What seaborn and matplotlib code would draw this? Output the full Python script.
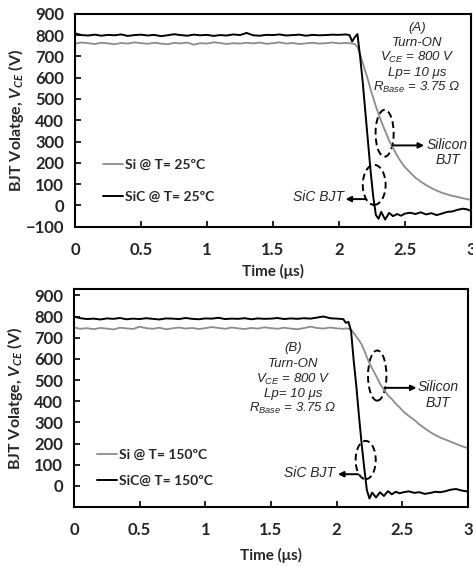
import matplotlib
matplotlib.use("Agg")
import matplotlib.pyplot as plt
from matplotlib.patches import Ellipse
import seaborn as sns

# ---- data ----
# (A) T = 25 C
time_a = [0.00, 0.05, 0.10, 0.15, 0.20, 0.25, 0.30, 0.35, 0.40, 0.45,
          0.50, 0.55, 0.60, 0.65, 0.70, 0.75, 0.80, 0.85, 0.90, 0.95,
          1.00, 1.05, 1.10, 1.15, 1.20, 1.25, 1.30, 1.35, 1.40, 1.45,
          1.50, 1.55, 1.60, 1.65, 1.70, 1.75, 1.80, 1.85, 1.90, 1.95,
          2.00, 2.05, 2.08, 2.10, 2.12, 2.14, 2.16, 2.18, 2.20, 2.22,
          2.24, 2.26, 2.28, 2.30, 2.32, 2.35, 2.38, 2.41, 2.44, 2.47,
          2.50, 2.54, 2.58, 2.62, 2.66, 2.70, 2.74, 2.78, 2.82, 2.86,
          2.90, 2.94, 2.97, 3.00]
si_a = [760, 765, 762, 758, 764, 761, 757, 763, 760, 766,
        762, 759, 764, 760, 757, 763, 761, 765, 755, 762,
        760, 766, 763, 758, 762, 760, 764, 761, 765, 759,
        762, 766, 760, 763, 758, 761, 764, 760, 762, 765,
        761, 763, 762, 760, 758, 745, 710, 670, 630, 590,
        545, 505, 465, 430, 395, 350, 305, 270, 235, 205,
        180, 155, 130, 112, 96, 82, 70, 60, 52, 45,
        40, 34, 30, 26]
sic_a = [808, 800, 798, 802, 797, 801, 799, 803, 796, 800,
         802, 798, 801, 795, 799, 804, 800, 797, 802, 799,
         801, 796, 800, 798, 803, 800, 810, 799, 797, 801,
         800, 803, 798, 800, 802, 797, 801, 799, 800, 802,
         801, 803, 800, 770, 790, 805, 700, 580, 440, 300,
         160, 40, -45, -62, -30, -66, -35, -50, -40, -48,
         -38, -34, -40, -32, -42, -36, -45, -38, -30, -28,
         -20, -15, -18, -25]

# (B) T = 150 C
time_b = [0.00, 0.05, 0.10, 0.15, 0.20, 0.25, 0.30, 0.35, 0.40, 0.45,
          0.50, 0.55, 0.60, 0.65, 0.70, 0.75, 0.80, 0.85, 0.90, 0.95,
          1.00, 1.05, 1.10, 1.15, 1.20, 1.25, 1.30, 1.35, 1.40, 1.45,
          1.50, 1.55, 1.60, 1.65, 1.70, 1.75, 1.80, 1.85, 1.90, 1.95,
          2.00, 2.05, 2.07, 2.09, 2.11, 2.13, 2.15, 2.17, 2.19, 2.21,
          2.23, 2.25, 2.27, 2.30, 2.33, 2.36, 2.39, 2.42, 2.45, 2.48,
          2.51, 2.55, 2.59, 2.63, 2.67, 2.71, 2.75, 2.79, 2.83, 2.87,
          2.91, 2.95, 3.00]
si_b = [748, 742, 745, 740, 746, 743, 739, 747, 744, 741,
        752, 745, 742, 747, 740, 744, 748, 743, 746, 741,
        745, 750, 746, 742, 748, 744, 741, 746, 743, 749,
        745, 742, 747, 743, 740, 745, 752, 746, 743, 748,
        744, 742, 744, 742, 738, 722, 705, 688, 668, 640,
        608, 580, 555, 520, 482, 455, 428, 410, 388, 370,
        350, 330, 312, 290, 272, 255, 240, 228, 218, 208,
        198, 188, 178]
sic_b = [800, 792, 788, 790, 786, 791, 789, 793, 787, 790,
         788, 792, 789, 786, 791, 790, 788, 793, 789, 787,
         791, 790, 794, 788, 790, 789, 792, 787, 791, 789,
         790, 793, 788, 791, 789, 792, 790, 795, 800, 792,
         790, 788, 770, 775, 730, 590, 470, 330, 200, 85,
         -20, -60, -32, -55, -30, -48, -25, -40, -28, -35,
         -30, -26, -33, -30, -38, -34, -28, -30, -25, -18,
         -15, -22, -27]

labels_a = ["Si @ T= 25ºC", "SiC @ T= 25ºC"]
labels_b = ["Si @ T= 150ºC", "SiC@ T= 150ºC"]
xticks = [0, 0.5, 1, 1.5, 2, 2.5, 3]
xticklabels = ["0", "0.5", "1", "1.5", "2", "2.5", "3"]
yticks_a = [-100, 0, 100, 200, 300, 400, 500, 600, 700, 800, 900]
yticks_b = [0, 100, 200, 300, 400, 500, 600, 700, 800, 900]

info_a = ["(A)", "Turn-ON", r"$V_{CE}$ = 800 V", "Lp= 10 μs", r"$R_{Base}$ = 3.75 Ω"]
info_b = ["(B)", "Turn-ON", r"$V_{CE}$ = 800 V", "Lp= 10 μs", r"$R_{Base}$ = 3.75 Ω"]

GREY = "#8c8c8c"
BLACK = "#000000"

sns.set_style("ticks")
plt.rcParams["font.family"] = ["Lato", "DejaVu Sans"]
plt.rcParams["font.weight"] = "bold"
plt.rcParams["mathtext.fontset"] = "custom"
plt.rcParams["mathtext.rm"] = "Liberation Sans:normal"
plt.rcParams["mathtext.it"] = "Liberation Sans:italic:normal"
plt.rcParams["mathtext.bf"] = "Lato:italic:bold"

fig = plt.figure(figsize=(4.73, 5.67), dpi=100)
ax_a = fig.add_axes([0.1586, 0.600, 0.837, 0.3757])
ax_b = fig.add_axes([0.1564, 0.1058, 0.833, 0.3845])


def draw_panel(ax, t, si, sic, labels, yticks, ylim, leg_xy, leg_space, xlabelpad):
    sns.lineplot(x=t, y=si, color=GREY, linewidth=1.3, label=labels[0], ax=ax)
    sns.lineplot(x=t, y=sic, color=BLACK, linewidth=1.4, label=labels[1], ax=ax)
    ax.set_xlim(0, 3)
    ax.set_ylim(*ylim)
    ax.set_xticks(xticks)
    ax.set_xticklabels(xticklabels)
    ax.set_yticks(yticks)
    ax.tick_params(axis="both", direction="in", length=4, width=1.2,
                   labelsize=12, color="black")
    ax.tick_params(axis="x", pad=11)
    ax.tick_params(axis="y", pad=8)
    for s in ax.spines.values():
        s.set_linewidth(1.5)
        s.set_color("black")
    ax.set_xlabel("Time (μs)", fontsize=11, fontweight="bold", labelpad=xlabelpad)
    ax.set_ylabel(r"BJT Volatge, $\mathbf{V_{CE}}$ (V)", fontsize=11.5,
                  fontweight="bold")
    ax.yaxis.set_label_coords(-0.125, 0.5)
    ax.legend(loc="center left", bbox_to_anchor=leg_xy, frameon=False,
              borderpad=0, borderaxespad=0, handlelength=1.45,
              handletextpad=0.15, labelspacing=leg_space,
              prop={"weight": "bold", "size": 10})


def draw_notes(ax, info, cx, ys, ell_si, ell_sic, arr_si, arr_sic, txt_si, txt_sic):
    for line, y in zip(info, ys):
        ax.text(cx, y, line, transform=ax.transAxes, ha="center", va="center",
                fontsize=9.5, fontstyle="italic", fontweight="normal",
                family="Liberation Sans")
    for (x, y, w, h) in [ell_si, ell_sic]:
        ax.add_patch(Ellipse((x, y), w, h, fill=False, edgecolor="black",
                             lw=1.4, linestyle=(0, (3.5, 2))))
    for (x0, x1, y) in [arr_si, arr_sic]:
        ax.annotate("", xy=(x1, y), xytext=(x0, y),
                    arrowprops=dict(arrowstyle="-|>", color="black", lw=1.4,
                                    mutation_scale=8, shrinkA=0, shrinkB=0))
    ax.text(txt_si[0], txt_si[1], "Silicon\nBJT", ha="center", va="center",
            fontsize=10, fontstyle="italic", fontweight="normal",
            family="Liberation Sans", linespacing=1.1)
    ax.text(txt_sic[0], txt_sic[1], "SiC BJT", ha="right", va="center",
            fontsize=10, fontstyle="italic", fontweight="normal",
            family="Liberation Sans")


draw_panel(ax_a, time_a, si_a, sic_a, labels_a, yticks_a, (-100, 900),
           (0.07, 0.216), 1.45, 4)
draw_notes(ax_a, info_a, 0.864, [0.934, 0.864, 0.793, 0.723, 0.653],
           (2.346, 339, 0.137, 220), (2.267, 97, 0.173, 188),
           (2.404, 2.645, 282), (2.20, 2.05, 30),
           (2.823, 248), (2.036, 38))

draw_panel(ax_b, time_b, si_b, sic_b, labels_b, yticks_b, (-100, 930),
           (0.058, 0.179), 1.05, 7)
draw_notes(ax_b, info_b, 0.556, [0.729, 0.656, 0.587, 0.518, 0.450],
           (2.309, 521, 0.14, 237), (2.221, 122, 0.153, 181),
           (2.366, 2.608, 463), (2.163, 2.01, 55),
           (2.773, 429), (1.985, 60))

fig.savefig("out.png", dpi=100)
